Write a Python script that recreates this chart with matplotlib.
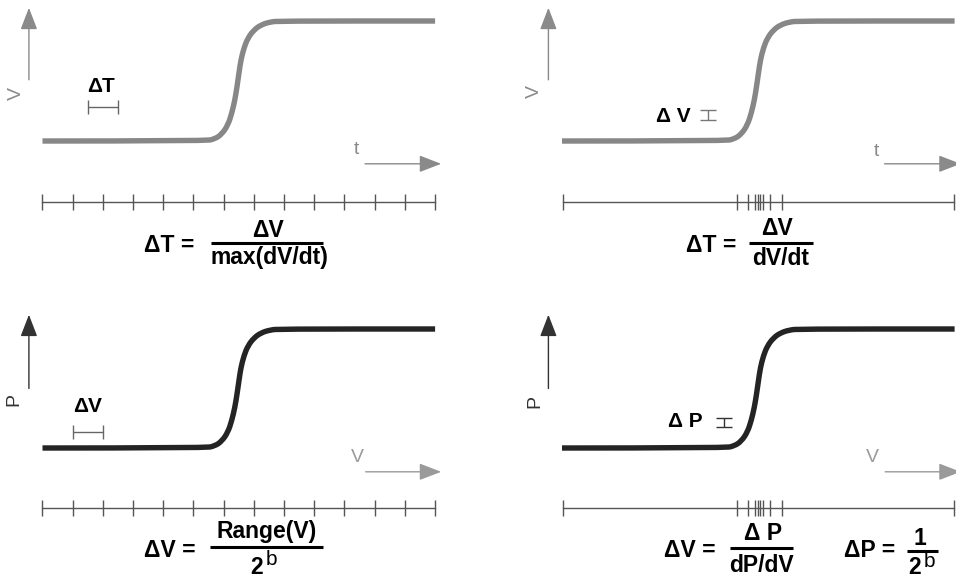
import matplotlib
matplotlib.use("Agg")
import matplotlib.pyplot as plt
from matplotlib.path import Path
from matplotlib.patches import PathPatch
from matplotlib.lines import Line2D

plt.rcParams["font.family"] = ["Liberation Sans", "DejaVu Sans"]

W, H, DPI = 956, 578, 100

# S-shaped transfer curve: (input, normalised output) pairs
resp_x = [0.0, 5.38, 5.71, 5.94, 6.14, 6.27, 6.37, 6.44, 6.51, 6.57, 6.67,
          6.80, 7.00, 7.23, 7.53, 7.86, 13.0]
resp_y = [0.0, 0.0, 0.017, 0.058, 0.133, 0.233, 0.342, 0.45, 0.575, 0.675,
          0.775, 0.858, 0.925, 0.967, 0.992, 1.0, 1.0]

# sampling grids: uniform steps vs. steps bunched where the curve is steep
uniform_ticks = [0, 1, 2, 3, 4, 5, 6, 7, 8, 9, 10, 11, 12, 13]
adaptive_ticks = [0.03, 5.78, 6.15, 6.39, 6.48, 6.56, 6.65, 6.89, 7.27, 12.98]

# resolution intervals (start, end)
dT_span = [1.5, 2.5]        # one uniform time step
dV_span = [1.0, 2.0]        # one quantisation step
dV_level = [0.175, 0.258]   # output step in the top-right panel
dP_level = [0.176, 0.252]   # output step in the bottom-right panel

GREY_CURVE = "#878787"
DARK_CURVE = "#242424"
AXIS_GREY = "#777777"

fig = plt.figure(figsize=(W / DPI, H / DPI), dpi=DPI)
fig.patch.set_facecolor("white")

SX = 30.2  # pixels per input unit


def make_panel(col, row):
    left = 0 if col == 0 else 478
    top = 0 if row == 0 else 289
    ax = fig.add_axes([left / W, 1 - (top + 289) / H, 478 / W, 289 / H])
    x0 = 42.5 if col == 0 else 84.0
    y0, sy = (141.0, 120.0) if row == 0 else (159.0, 119.0)
    ax.set_xlim(-x0 / SX, (478 - x0) / SX)
    ax.set_ylim(-(289 - y0) / sy, y0 / sy)
    ax.axis("off")
    return ax


def smooth_curve(xs, ys):
    pts = list(zip(xs, ys))
    verts, codes = [pts[0]], [Path.MOVETO]
    for i in range(1, len(pts) - 1):
        mid = ((pts[i][0] + pts[i + 1][0]) / 2, (pts[i][1] + pts[i + 1][1]) / 2)
        verts += [pts[i], mid]
        codes += [Path.CURVE3, Path.CURVE3]
    verts.append(pts[-1])
    codes.append(Path.LINETO)
    return Path(verts, codes)


def draw_curve(ax, color):
    ax.add_patch(PathPatch(smooth_curve(resp_x, resp_y), facecolor="none",
                           edgecolor=color, lw=3.9, capstyle="butt",
                           joinstyle="round"))


def draw_ruler(ax, ticks, y, h):
    ax.plot([ticks[0], ticks[-1]], [y, y], color="#555555", lw=1.0)
    ax.vlines(ticks, y - h, y + h, color="#555555", lw=1.0)


def arrow(ax, tail, tip, head_color):
    ax.annotate("", xy=tip, xytext=tail, annotation_clip=False,
                arrowprops=dict(arrowstyle="-|>,head_length=1.35,head_width=0.52",
                                mutation_scale=10, lw=1.0, color=AXIS_GREY,
                                fc=head_color, ec=head_color,
                                shrinkA=0, shrinkB=0))


def ftext(x, y, s, **kw):
    kw.setdefault("ha", "center")
    kw.setdefault("va", "baseline")
    fig.text(x / W, 1 - y / H, s, **kw)


def fbar(x1, x2, y, lw=2.2):
    fig.add_artist(Line2D([x1 / W, x2 / W], [1 - y / H, 1 - y / H],
                          color="black", lw=lw, solid_capstyle="butt"))


BOLD = dict(fontweight="bold", fontsize=16.5, color="black")
LAB = dict(fontweight="bold", fontsize=15, color="black")

# ---- top-left: uniform time sampling -------------------------------
ax = make_panel(0, 0)
draw_curve(ax, GREY_CURVE)
draw_ruler(ax, uniform_ticks, -0.508, 0.068)
arrow(ax, (-0.45, 0.51), (-0.45, 1.11), "#8a8a8a")
arrow(ax, (10.68, -0.19), (13.2, -0.19), "#8a8a8a")
ax.errorbar([sum(dT_span) / 2], [0.283], xerr=[(dT_span[1] - dT_span[0]) / 2],
            color="#666666", lw=1.0, capsize=5, capthick=1.0)

# ---- top-right: adaptive time sampling -----------------------------
ax = make_panel(1, 0)
draw_curve(ax, GREY_CURVE)
draw_ruler(ax, adaptive_ticks, -0.508, 0.068)
arrow(ax, (-0.45, 0.51), (-0.45, 1.11), "#8a8a8a")
arrow(ax, (10.68, -0.19), (13.2, -0.19), "#8a8a8a")
ax.errorbar([4.83], [sum(dV_level) / 2], yerr=[(dV_level[1] - dV_level[0]) / 2],
            color="#777777", lw=1.0, capsize=6, capthick=1.0)

# ---- bottom-left: uniform quantisation -----------------------------
ax = make_panel(0, 1)
draw_curve(ax, DARK_CURVE)
draw_ruler(ax, uniform_ticks, -0.504, 0.07)
arrow(ax, (-0.45, 0.50), (-0.45, 1.12), "#333333")
arrow(ax, (10.7, -0.20), (13.2, -0.20), "#9a9a9a")
ax.errorbar([sum(dV_span) / 2], [0.134], xerr=[(dV_span[1] - dV_span[0]) / 2],
            color="#666666", lw=1.0, capsize=5, capthick=1.0)

# ---- bottom-right: adaptive quantisation ---------------------------
ax = make_panel(1, 1)
draw_curve(ax, DARK_CURVE)
draw_ruler(ax, adaptive_ticks, -0.504, 0.07)
arrow(ax, (-0.45, 0.50), (-0.45, 1.12), "#333333")
arrow(ax, (10.7, -0.20), (13.2, -0.20), "#9a9a9a")
ax.errorbar([5.36], [sum(dP_level) / 2], yerr=[(dP_level[1] - dP_level[0]) / 2],
            color="#333333", lw=1.0, capsize=6, capthick=1.0)

# ---- axis letters --------------------------------------------------
AX_LET = dict(fontsize=14, ha="center", va="center")
ftext(16, 93, "V", rotation=90, color="#8a8a8a", **AX_LET)
ftext(534, 92, "V", rotation=90, color="#8a8a8a", **AX_LET)
ftext(14, 400, "P", rotation=90, color="#333333", **AX_LET)
ftext(535, 402, "P", rotation=90, color="#333333", **AX_LET)
ftext(356, 150, "t", color="#8a8a8a", **AX_LET)
ftext(876, 152, "t", color="#8a8a8a", **AX_LET)
ftext(357, 457, "V", color="#9a9a9a", **AX_LET)
ftext(872, 457, "V", color="#9a9a9a", **AX_LET)

# ---- interval labels ----------------------------------------------
ftext(101, 92, "ΔT", **LAB)
ftext(673, 122, "Δ V", **LAB)
ftext(88, 412, "ΔV", **LAB)
ftext(685, 427, "Δ P", **LAB)

# ---- formulas ------------------------------------------------------
ftext(169, 252, "ΔT =", **BOLD)
ftext(268, 237, "ΔV", **BOLD)
fbar(211, 323, 243)
ftext(269, 264, "max(dV/dt)", **BOLD)

ftext(711, 252, "ΔT =", **BOLD)
ftext(777, 235, "ΔV", **BOLD)
fbar(749, 813, 243)
ftext(781, 265, "dV/dt", **BOLD)

ftext(170, 557, "ΔV =", **BOLD)
ftext(267, 538, "Range(V)", **BOLD)
fbar(210, 323, 547)
ftext(257, 574, "2", **BOLD)
ftext(271, 565, "b", fontsize=15, color="black")

ftext(690, 557, "ΔV =", **BOLD)
ftext(763, 540, "Δ P", **BOLD)
fbar(730, 793, 548)
ftext(761, 572, "dP/dV", **BOLD)

ftext(870, 557, "ΔP =", **BOLD)
ftext(920, 545, "1", **BOLD)
fbar(907, 938, 551)
ftext(915, 574, "2", **BOLD)
ftext(929, 567, "b", fontsize=15, color="black")

fig.savefig("out.png", dpi=DPI)
